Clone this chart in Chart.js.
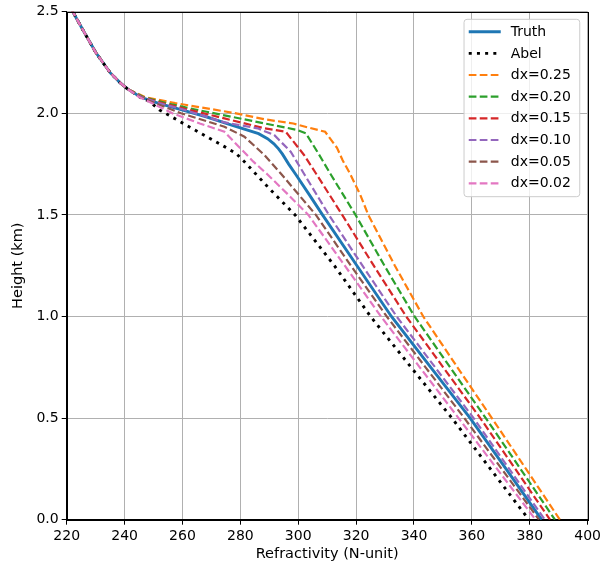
<!DOCTYPE html>
<html>
<head>
<meta charset="utf-8">
<script src="https://cdn.jsdelivr.net/npm/chart.js@4.4.1/dist/chart.umd.min.js"></script>
<style>
  body { margin: 0; background: #fff; }
</style>
</head>
<body>
<canvas id="chart" width="604" height="565"></canvas>
<script>
// tick values / labels
const xTicks = [220, 240, 260, 280, 300, 320, 340, 360, 380, 400];
const yTicks = [0, 0.5, 1.0, 1.5, 2.0, 2.5];
const yTickLabels = ["0.0", "0.5", "1.0", "1.5", "2.0", "2.5"];

// common upper part (all profiles identical above ~2.12 km)
const topH = [2.56, 2.5, 2.4, 2.3, 2.2, 2.15, 2.12];
const topN = [219.7, 222.1, 226.0, 230.0, 235.0, 238.5, 241.0];

// lower parts, height (km) and refractivity (N-unit)
const truthH = [2.08, 2.05, 2.016, 1.983, 1.942, 1.9, 1.875, 1.85, 1.825, 1.8, 1.75, 1.7, 1.6, 1.5, 1.25, 1.0, 0.75, 0.5, 0.25, 0];
const truthN = [245.5, 251.5, 260.1, 268.2, 277.0, 286.3, 289.4, 291.6, 293.2, 294.5, 296.7, 299.1, 303.8, 308.4, 320.3, 332.2, 345.8, 359.4, 371.8, 384.1];

const abelH = [2.1, 2.08, 2.057, 2.016, 1.942, 1.868, 1.836, 1.803, 1.762, 1.63, 1.5, 1.25, 1.0, 0.75, 0.5, 0.25, 0];
const abelN = [243.2, 245.2, 248.7, 252.1, 261.3, 270.5, 274.5, 278.5, 281.4, 290.0, 298.9, 312.5, 325.0, 339.0, 353.1, 366.4, 379.7];

const dx25H = [2.08, 2.05, 2.03, 2.0, 1.97, 1.95, 1.935, 1.909, 1.83, 1.77, 1.7, 1.6, 1.5, 1.25, 1.0, 0.75, 0.5, 0.25, 0];
const dx25N = [247.0, 257.5, 266.0, 278.5, 288.5, 298.3, 302.1, 309.3, 313.4, 315.3, 318.0, 321.4, 324.2, 333.4, 343.2, 355.0, 366.9, 378.7, 390.4];

const dx20H = [2.08, 2.05, 2.02, 1.99, 1.95, 1.918, 1.902, 1.811, 1.77, 1.7, 1.5, 1.25, 1.0, 0.75, 0.5, 0.25, 0];
const dx20N = [246.5, 254.5, 264.0, 274.5, 288.5, 299.7, 302.6, 306.6, 308.3, 311.2, 319.8, 329.8, 340.2, 352.5, 364.8, 376.8, 388.7];

const dx15H = [2.08, 2.05, 2.02, 1.975, 1.926, 1.909, 1.795, 1.7, 1.5, 1.25, 1.0, 0.75, 0.5, 0.25, 0];
const dx15N = [246.0, 253.0, 261.5, 274.5, 288.3, 295.7, 302.0, 306.3, 315.2, 326.1, 337.3, 350.1, 362.9, 375.0, 387.0];

const dx10H = [2.08, 2.05, 2.02, 1.955, 1.926, 1.893, 1.811, 1.7, 1.5, 1.25, 1.0, 0.75, 0.5, 0.25, 0];
const dx10N = [245.8, 252.0, 260.0, 274.5, 286.0, 291.7, 297.4, 302.1, 310.6, 322.2, 334.0, 347.3, 360.6, 372.9, 385.2];

const dx05H = [2.08, 2.05, 2.0, 1.934, 1.885, 1.795, 1.7, 1.5, 1.25, 1.0, 0.75, 0.5, 0.25, 0];
const dx05N = [245.3, 250.5, 259.5, 274.5, 281.4, 288.3, 294.2, 306.1, 318.2, 330.6, 344.0, 357.4, 370.3, 383.2];

const dx02H = [2.08, 2.05, 2.0, 1.95, 1.909, 1.86, 1.762, 1.7, 1.6, 1.5, 1.25, 1.0, 0.75, 0.5, 0.25, 0];
const dx02N = [245.0, 249.5, 256.5, 266.0, 274.5, 277.8, 284.5, 289.3, 296.5, 303.5, 316.1, 328.6, 342.0, 355.4, 368.7, 382.0];

function pts(h, n) {
  const hh = topH.concat(h), nn = topN.concat(n);
  return hh.map((y, i) => ({ x: nn[i], y: y }));
}

const FONT = "'DejaVu Sans', sans-serif";
const dash = [7.7, 3.3];

function line(label, h, n, color, width, bd, order) {
  return {
    label: label,
    data: pts(h, n),
    borderColor: color,
    backgroundColor: color,
    borderWidth: width,
    borderDash: bd,
    borderCapStyle: "butt",
    showLine: true,
    pointRadius: 0,
    tension: 0,
    order: order,
  };
}

const datasets = [
  line("Truth", truthH, truthN, "#1f77b4", 2.9, [], 8),
  line("Abel", abelH, abelN, "#000000", 2.9, [3, 5.2], 7),
  line("dx=0.25", dx25H, dx25N, "#ff7f0e", 2.2, dash, 6),
  line("dx=0.20", dx20H, dx20N, "#2ca02c", 2.2, dash, 5),
  line("dx=0.15", dx15H, dx15N, "#d62728", 2.2, dash, 4),
  line("dx=0.10", dx10H, dx10N, "#9467bd", 2.2, dash, 3),
  line("dx=0.05", dx05H, dx05N, "#8c564b", 2.2, dash, 2),
  line("dx=0.02", dx02H, dx02N, "#e377c2", 2.2, dash, 1),
];

// frame + legend box inside the axes (matplotlib style)
const boxLegend = {
  id: "boxLegend",
  afterDraw(chart) {
    const ctx = chart.ctx;
    const a = chart.chartArea;
    ctx.save();
    ctx.strokeStyle = "#000";
    ctx.lineWidth = 1;
    ctx.strokeRect(Math.round(a.left) + 0.5, Math.round(a.top) + 0.5,
      Math.round(a.right - a.left), Math.round(a.bottom - a.top));

    const bx = a.right - 123.6, by = a.top + 7.6, bw = 115.7, bh = 177.4, r = 3;
    ctx.beginPath();
    ctx.moveTo(bx + r, by);
    ctx.arcTo(bx + bw, by, bx + bw, by + bh, r);
    ctx.arcTo(bx + bw, by + bh, bx, by + bh, r);
    ctx.arcTo(bx, by + bh, bx, by, r);
    ctx.arcTo(bx, by, bx + bw, by, r);
    ctx.closePath();
    ctx.fillStyle = "rgba(255,255,255,0.8)";
    ctx.fill();
    ctx.strokeStyle = "#cccccc";
    ctx.stroke();

    ctx.font = "14px " + FONT;
    ctx.textBaseline = "middle";
    ctx.textAlign = "left";
    chart.data.datasets.forEach((ds, i) => {
      const yy = by + 12.4 + i * 21.66;
      ctx.beginPath();
      ctx.setLineDash(ds.borderDash);
      ctx.lineCap = "butt";
      ctx.strokeStyle = ds.borderColor;
      ctx.lineWidth = ds.borderWidth;
      ctx.moveTo(bx + 4.7, yy);
      ctx.lineTo(bx + 36.7, yy);
      ctx.stroke();
      ctx.setLineDash([]);
      ctx.fillStyle = "#000";
      ctx.fillText(ds.label, bx + 46.7, yy + 0.5);
    });
    ctx.restore();
  },
};

const axisCommon = {
  type: "linear",
  grid: { color: "#b0b0b0", lineWidth: 1, tickColor: "#000", tickLength: 5 },
  border: { color: "#000", width: 1 },
};

new Chart(document.getElementById("chart"), {
  type: "scatter",
  data: { datasets: datasets },
  options: {
    responsive: false,
    animation: false,
    devicePixelRatio: 1,
    layout: { padding: { top: 11.7, right: 14.4, left: 0, bottom: 0 } },
    plugins: { legend: { display: false }, tooltip: { enabled: false } },
    scales: {
      x: Object.assign({}, axisCommon, {
        min: 220,
        max: 400,
        afterBuildTicks: (s) => { s.ticks = xTicks.map((v) => ({ value: v })); },
        afterFit: (s) => { s.height = 45.3; },
        ticks: { color: "#000", font: { family: FONT, size: 14 }, padding: 3, maxRotation: 0,
          callback: (v) => String(v) },
        title: { display: true, text: "Refractivity (N-unit)", color: "#000",
          font: { family: FONT, size: 14.5 }, padding: { top: 4, bottom: 2.5 } },
      }),
      y: Object.assign({}, axisCommon, {
        min: 0,
        max: 2.5,
        afterBuildTicks: (s) => { s.ticks = yTicks.map((v) => ({ value: v })); },
        afterFit: (s) => { s.width = 66.7; },
        ticks: { color: "#000", font: { family: FONT, size: 14 }, padding: 3,
          callback: (v, i) => yTickLabels[i] },
        title: { display: true, text: "Height (km)", color: "#000",
          font: { family: FONT, size: 14.5 }, padding: { top: 10, bottom: 4 } },
      }),
    },
  },
  plugins: [boxLegend],
});
</script>
</body>
</html>
